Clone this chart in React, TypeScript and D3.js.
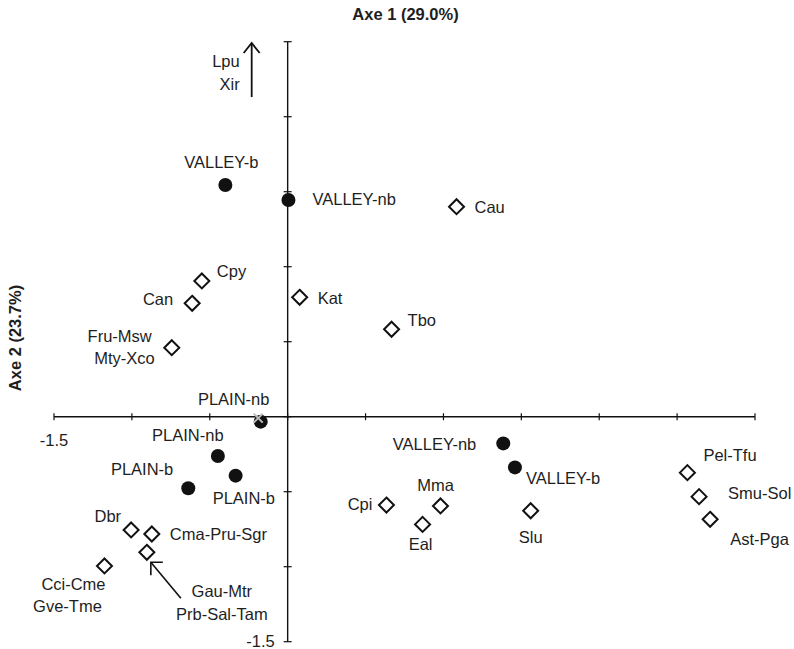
// App.tsx
// ordination biplot (axes 1 and 2) drawn with d3 scales
import * as d3 from 'd3';
import React from 'react';

const W = 794;
const H = 649;

// axis ticks
const xTicks = [-1.5, -1, -0.5, 0, 0.5, 1, 1.5, 2, 2.5, 3];
const yTicks = [-1.5, -1, -0.5, 0, 0.5, 1, 1.5, 2, 2.5];
const xTickLabels = ['-1.5', '', '', '', '', '', '', '', '', ''];
const yTickLabels = ['-1.5', '', '', '', '', '', '', '', ''];

// stations (filled circles)
const stationNames = ['VALLEY-b', 'VALLEY-nb', 'PLAIN-nb', 'PLAIN-nb', 'PLAIN-b', 'PLAIN-b', 'VALLEY-nb', 'VALLEY-b'];
const stationX = [-0.4, 0.005, -0.173, -0.448, -0.638, -0.334, 1.384, 1.459];
const stationY = [1.545, 1.445, -0.033, -0.262, -0.477, -0.393, -0.178, -0.338];

// species (open diamonds)
const speciesNames = [
    ['Cau'], ['Kat'], ['Cpy'], ['Can'], ['Fru-Msw', 'Mty-Xco'], ['Tbo'], ['Cpi'], ['Mma'], ['Eal'], ['Slu'],
    ['Pel-Tfu'], ['Smu-Sol'], ['Ast-Pga'], ['Dbr'], ['Cma-Pru-Sgr'], ['Gau-Mtr', 'Prb-Sal-Tam'], ['Cci-Cme', 'Gve-Tme']
];
const speciesX = [1.084, 0.077, -0.551, -0.613, -0.744, 0.667, 0.634, 0.981, 0.866, 1.56, 2.566, 2.641, 2.712, -1.005, -0.872, -0.904, -1.176];
const speciesY = [1.4, 0.796, 0.905, 0.756, 0.46, 0.583, -0.589, -0.595, -0.718, -0.627, -0.373, -0.533, -0.684, -0.755, -0.782, -0.904, -0.995];

// species outside the plotted window (shown with an arrow)
const offNames = ['Lpu', 'Xir'];
const offArrowX = -0.231;
const offArrowY = [2.131, 2.491];

// where the labels sit relative to their marker (px): anchor, dx per line, dy of first line
type Lab = { a: 'start' | 'middle' | 'end'; dx: number[]; dy: number };
const stationLab: Lab[] = [
    { a: 'middle', dx: [-4], dy: -17 },
    { a: 'start', dx: [24], dy: 5 },
    { a: 'middle', dx: [-27], dy: -17 },
    { a: 'middle', dx: [-30], dy: -15 },
    { a: 'end', dx: [-15], dy: -13 },
    { a: 'start', dx: [-23], dy: 28 },
    { a: 'end', dx: [-27], dy: 7 },
    { a: 'start', dx: [11], dy: 17 },
];
const speciesLab: Lab[] = [
    { a: 'start', dx: [18], dy: 6 },
    { a: 'start', dx: [18], dy: 7 },
    { a: 'start', dx: [15], dy: -4 },
    { a: 'end', dx: [-19], dy: 2 },
    { a: 'end', dx: [-20, -17], dy: -6 },
    { a: 'start', dx: [16], dy: -3 },
    { a: 'end', dx: [-14], dy: 5 },
    { a: 'middle', dx: [-5], dy: -15 },
    { a: 'middle', dx: [-2], dy: 26 },
    { a: 'middle', dx: [0], dy: 32 },
    { a: 'start', dx: [16], dy: -12 },
    { a: 'start', dx: [29], dy: 2 },
    { a: 'start', dx: [20], dy: 26 },
    { a: 'end', dx: [-10], dy: -8 },
    { a: 'start', dx: [18], dy: 6 },
    { a: 'middle', dx: [75, 75], dy: 45 },
    { a: 'middle', dx: [-31, -37], dy: 24 },
];

const FONT = '"Liberation Sans", Arial, sans-serif';
const FS = 16.5;
const INK = '#1e1e1e';

const x = d3.scaleLinear().domain([-1.5, 3]).range([54, 755]);
const y = d3.scaleLinear().domain([-1.5, 2.5]).range([641.7, 41.7]);

function Label({ px, py, lines, lab }: { px: number; py: number; lines: string[]; lab: Lab }) {
    return (
        <g>
            {lines.map((t, i) => (
                <text key={i} x={px + lab.dx[i]} y={py + lab.dy + i * 22.5} textAnchor={lab.a}
                    fontFamily={FONT} fontSize={FS} fill={INK}>{t}</text>
            ))}
        </g>
    );
}

export default function App() {
    const x0 = x(0);
    const y0 = y(0);
    const diamond = (cx: number, cy: number, r: number) =>
        `M${cx},${cy - r}L${cx + r},${cy}L${cx},${cy + r}L${cx - r},${cy}Z`;

    // arrow for off-chart species
    const ax = x(offArrowX);
    const ay1 = y(offArrowY[0]);
    const ay2 = y(offArrowY[1]);

    // callout arrow for Gau-Mtr / Prb-Sal-Tam
    const gi = 15;
    const gx = x(speciesX[gi]);
    const gy = y(speciesY[gi]);

    return (
        <svg width={W} height={H} style={{ position: 'absolute', left: 0, top: 0, background: '#fff' }}>
            {/* titles */}
            <text x={(x(-1.5) + x(3)) / 2 + 1} y={20} textAnchor="middle" fontFamily={FONT} fontWeight="bold"
                fontSize={16.5} fill={INK}>Axe 1 (29.0%)</text>
            <text transform={`translate(21,338) rotate(-90)`} textAnchor="middle" fontFamily={FONT} fontWeight="bold"
                fontSize={16.5} fill={INK}>Axe 2 (23.7%)</text>

            {/* axes */}
            <line x1={x(-1.5)} x2={x(3)} y1={y0} y2={y0} stroke="#111" strokeWidth={1.4} />
            <line x1={x0} x2={x0} y1={y(-1.5)} y2={y(2.5)} stroke="#111" strokeWidth={1.4} />
            {xTicks.map((t, i) => (
                <g key={'xt' + i}>
                    <line x1={x(t)} x2={x(t)} y1={y0 - 3.5} y2={y0 + 3.5} stroke="#111" strokeWidth={1.2} />
                    {xTickLabels[i] && <text x={x(t)} y={y0 + 29} textAnchor="middle" fontFamily={FONT}
                        fontSize={FS} fill={INK}>{xTickLabels[i]}</text>}
                </g>
            ))}
            {yTicks.map((t, i) => (
                <g key={'yt' + i}>
                    <line x1={x0 - 4} x2={x0 + 4} y1={y(t)} y2={y(t)} stroke="#111" strokeWidth={1.2} />
                    {yTickLabels[i] && <text x={x0 - 13} y={y(t) + 5.5} textAnchor="end" fontFamily={FONT}
                        fontSize={FS} fill={INK}>{yTickLabels[i]}</text>}
                </g>
            ))}

            {/* species */}
            {speciesX.map((v, i) => (
                <g key={'sp' + i}>
                    <path d={diamond(x(v), y(speciesY[i]), 7.5)} fill="#fff" stroke="#111" strokeWidth={2} />
                    <Label px={x(v)} py={y(speciesY[i])} lines={speciesNames[i]} lab={speciesLab[i]} />
                </g>
            ))}
            <path d={`M${gx + 34},${gy + 46}L${gx + 4},${gy + 10}`} stroke="#111" strokeWidth={1.6} fill="none" />
            <path d={`M${gx + 4},${gy + 23}L${gx + 4},${gy + 10}L${gx + 16},${gy + 10}`} stroke="#111"
                strokeWidth={1.6} fill="none" />

            {/* stations */}
            {stationX.map((v, i) => (
                <g key={'st' + i}>
                    <circle cx={x(v)} cy={y(stationY[i])} r={7} fill="#111" />
                    <Label px={x(v)} py={y(stationY[i])} lines={[stationNames[i]]} lab={stationLab[i]} />
                </g>
            ))}
            {/* grey cross on PLAIN-nb */}
            <path d={`M${x(stationX[2]) - 7},${y(stationY[2]) - 8}l9,9M${x(stationX[2]) + 2},${y(stationY[2]) - 8}l-9,9`}
                stroke="#bdbdbd" strokeWidth={2} />

            {/* off-chart species */}
            <line x1={ax} x2={ax} y1={ay1} y2={ay2} stroke="#111" strokeWidth={1.8} />
            <path d={`M${ax - 8},${ay2 + 10}L${ax},${ay2}L${ax + 8},${ay2 + 10}`} stroke="#111" strokeWidth={1.8}
                fill="none" />
            {offNames.map((n, i) => (
                <text key={n} x={ax - 12} y={ay2 + 24 + i * 23} textAnchor="end" fontFamily={FONT} fontSize={FS}
                    fill={INK}>{n}</text>
            ))}
        </svg>
    );
}
